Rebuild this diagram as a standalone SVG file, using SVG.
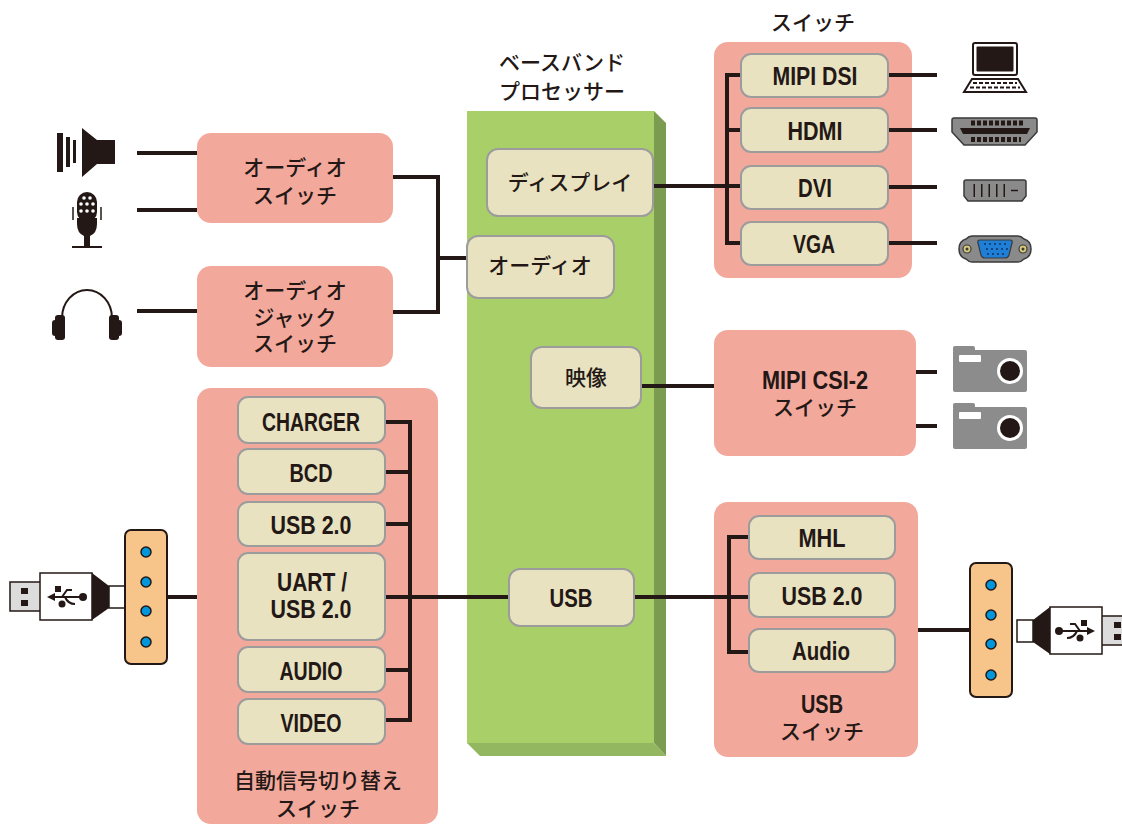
<svg xmlns="http://www.w3.org/2000/svg" width="1122" height="827" viewBox="0 0 1122 827">
  <defs>
    <style>
      .sw { fill: #f3a89c; }
      .blk { fill: #e8e2c0; stroke: #9c9c9c; stroke-width: 2; }
      .ln { fill: none; stroke: #231815; stroke-width: 4; stroke-linecap: butt; stroke-linejoin: miter; }
      .jp { font-family: "Noto Sans CJK JP", "Noto Sans", sans-serif; font-size: 21px; font-weight: 500; fill: #231815; text-anchor: middle; }
      .en { font-family: "Liberation Sans", Arial, sans-serif; font-size: 26px; font-weight: bold; fill: #231815; text-anchor: middle; }
      .dev { fill: #231815; }
      .gry { fill: #8a8a8a; stroke: #3a3a3a; stroke-width: 1.5; }
      .hub { fill: #f7c48a; stroke: #231815; stroke-width: 2; }
      .dot { fill: #0096dc; stroke: #231815; stroke-width: 1.5; }
      .plug { fill: #ffffff; stroke: #231815; stroke-width: 1.5; }
      .metal { fill: #dcdcdc; stroke: #231815; stroke-width: 1.5; }
      .cam { fill: #8c8c8c; }
    </style>
    <g id="usb-hub">
      <rect class="hub" x="0" y="0" width="42" height="134" rx="6"/>
      <circle class="dot" cx="21" cy="22" r="5"/>
      <circle class="dot" cx="21" cy="52" r="5"/>
      <circle class="dot" cx="21" cy="81" r="5"/>
      <circle class="dot" cx="21" cy="112" r="5"/>
    </g>
    <!-- USB plug, metal tip on the left -->
    <g id="usb-plug">
      <rect class="metal" x="0" y="9" width="31" height="29"/>
      <rect class="dev" x="11" y="15" width="7" height="6"/>
      <rect class="dev" x="11" y="27" width="7" height="6"/>
      <rect class="plug" x="30" y="0" width="52" height="47"/>
      <polygon class="dev" points="82,0 99,13 99,35 82,47"/>
      <rect class="plug" x="99" y="13" width="16" height="22"/>
      <!-- USB trident symbol -->
      <line x1="42" y1="24" x2="72" y2="24" stroke="#231815" stroke-width="2"/>
      <polygon class="dev" points="37,24 45,20 45,28"/>
      <circle class="dev" cx="73" cy="24" r="4"/>
      <polyline points="52,24 57,17 62,17" fill="none" stroke="#231815" stroke-width="2"/>
      <rect class="dev" x="45" y="13" width="6" height="6"/>
      <path d="M55,24 Q58,31 65,31" fill="none" stroke="#231815" stroke-width="2"/>
      <circle class="dev" cx="52" cy="31" r="3.5"/>
    </g>
    <g id="camera">
      <path class="cam" d="M0,5 h22 v-3 a2,2 0 0 0 -2,-2 h-18 a2,2 0 0 0 -2,2 z"/>
      <rect class="cam" x="0" y="4" width="74" height="42" rx="2"/>
      <rect x="6" y="9" width="22" height="7" rx="1" fill="#ffffff"/>
      <circle cx="57" cy="25" r="13" fill="#ffffff"/>
      <circle cx="57" cy="25" r="10" fill="#231815"/>
    </g>
  </defs>

  <!-- Baseband processor block -->
  <g id="baseband">
    <polygon points="654,111 666,123 666,756 654,743" fill="#7b9c50"/>
    <polygon points="467,743 654,743 666,756 480,756" fill="#93b661"/>
    <rect x="467" y="111" width="187" height="632" fill="#a9d068"/>
    <text class="jp" x="562" y="70">ベースバンド</text>
    <text class="jp" x="562" y="99">プロセッサー</text>
  </g>

  <!-- Switch housings -->
  <g id="audio-switch">
    <rect class="sw" x="197" y="133" width="196" height="90" rx="14"/>
    <text class="jp" x="295" y="175">オーディオ</text>
    <text class="jp" x="295" y="203">スイッチ</text>
  </g>
  <g id="audio-jack-switch">
    <rect class="sw" x="197" y="266" width="196" height="101" rx="14"/>
    <text class="jp" x="295" y="298">オーディオ</text>
    <text class="jp" x="295" y="325">ジャック</text>
    <text class="jp" x="295" y="351">スイッチ</text>
  </g>
  <g id="display-switch">
    <rect class="sw" x="714" y="42" width="198" height="236" rx="14"/>
    <text class="jp" x="813" y="30">スイッチ</text>
  </g>
  <g id="csi-switch">
    <rect class="sw" x="714" y="330" width="202" height="126" rx="14"/>
    <text class="en" x="815" y="389" textLength="106" lengthAdjust="spacingAndGlyphs">MIPI CSI-2</text>
    <text class="jp" x="815" y="415">スイッチ</text>
  </g>
  <g id="usb-switch">
    <rect class="sw" x="714" y="502" width="204" height="255" rx="14"/>
    <text class="en" x="822" y="713" textLength="42" lengthAdjust="spacingAndGlyphs">USB</text>
    <text class="jp" x="822" y="739">スイッチ</text>
  </g>
  <g id="auto-switch">
    <rect class="sw" x="197" y="388" width="241" height="436" rx="14"/>
    <text class="jp" x="318" y="788">自動信号切り替え</text>
    <text class="jp" x="318" y="816">スイッチ</text>
  </g>

  <!-- Connectors -->
  <g id="connectors">
    <line class="ln" x1="137" y1="153" x2="197" y2="153"/>
    <line class="ln" x1="137" y1="210" x2="197" y2="210"/>
    <line class="ln" x1="137" y1="311" x2="197" y2="311"/>
    <polyline class="ln" points="393,177 438,177 438,312 393,312"/>
    <line class="ln" x1="438" y1="258" x2="467" y2="258"/>
    <line class="ln" x1="653" y1="186" x2="741" y2="186"/>
    <polyline class="ln" points="741,75 727,75 727,243 741,243"/>
    <line class="ln" x1="727" y1="130" x2="741" y2="130"/>
    <line class="ln" x1="888" y1="75" x2="937" y2="75"/>
    <line class="ln" x1="888" y1="130" x2="937" y2="130"/>
    <line class="ln" x1="888" y1="187" x2="937" y2="187"/>
    <line class="ln" x1="888" y1="243" x2="937" y2="243"/>
    <line class="ln" x1="641" y1="386" x2="714" y2="386"/>
    <line class="ln" x1="916" y1="372" x2="937" y2="372"/>
    <line class="ln" x1="916" y1="426" x2="937" y2="426"/>
    <line class="ln" x1="634" y1="597" x2="749" y2="597"/>
    <polyline class="ln" points="749,537 729,537 729,652 749,652"/>
    <line class="ln" x1="918" y1="630" x2="970" y2="630"/>
    <line class="ln" x1="167" y1="597" x2="197" y2="597"/>
    <line class="ln" x1="385" y1="597" x2="509" y2="597"/>
    <polyline class="ln" points="385,422 410,422 410,720 385,720"/>
    <line class="ln" x1="385" y1="472" x2="410" y2="472"/>
    <line class="ln" x1="385" y1="524" x2="410" y2="524"/>
    <line class="ln" x1="385" y1="670" x2="410" y2="670"/>
  </g>

  <!-- Processor function blocks -->
  <g id="display"><rect class="blk" x="487" y="149" width="166" height="67" rx="11"/><text class="jp" x="570" y="190">ディスプレイ</text></g>
  <g id="audio"><rect class="blk" x="467" y="236" width="147" height="62" rx="11"/><text class="jp" x="540" y="273">オーディオ</text></g>
  <g id="video"><rect class="blk" x="531" y="347" width="110" height="61" rx="11"/><text class="jp" x="586" y="385">映像</text></g>
  <g id="usb"><rect class="blk" x="509" y="569" width="125" height="57" rx="11"/><text class="en" x="571" y="607" textLength="43" lengthAdjust="spacingAndGlyphs">USB</text></g>

  <!-- Display switch ports -->
  <g id="mipi-dsi"><rect class="blk" x="741" y="54" width="147" height="43" rx="10"/><text class="en" x="815" y="85" textLength="85" lengthAdjust="spacingAndGlyphs">MIPI DSI</text></g>
  <g id="hdmi"><rect class="blk" x="741" y="108" width="147" height="44" rx="10"/><text class="en" x="815" y="140" textLength="55" lengthAdjust="spacingAndGlyphs">HDMI</text></g>
  <g id="dvi"><rect class="blk" x="741" y="166" width="147" height="43" rx="10"/><text class="en" x="815" y="197" textLength="34" lengthAdjust="spacingAndGlyphs">DVI</text></g>
  <g id="vga"><rect class="blk" x="741" y="222" width="147" height="43" rx="10"/><text class="en" x="814" y="253" textLength="42" lengthAdjust="spacingAndGlyphs">VGA</text></g>

  <!-- USB switch ports -->
  <g id="mhl"><rect class="blk" x="749" y="516" width="146" height="43" rx="10"/><text class="en" x="822" y="547" textLength="47" lengthAdjust="spacingAndGlyphs">MHL</text></g>
  <g id="usb-switch-usb20"><rect class="blk" x="749" y="573" width="146" height="44" rx="10"/><text class="en" x="822" y="605" textLength="81" lengthAdjust="spacingAndGlyphs">USB 2.0</text></g>
  <g id="usb-switch-audio"><rect class="blk" x="749" y="629" width="146" height="43" rx="10"/><text class="en" x="821" y="660" textLength="58" lengthAdjust="spacingAndGlyphs">Audio</text></g>

  <!-- Auto switch ports -->
  <g id="charger"><rect class="blk" x="238" y="397" width="147" height="46" rx="10"/><text class="en" x="311" y="431" textLength="98" lengthAdjust="spacingAndGlyphs">CHARGER</text></g>
  <g id="bcd"><rect class="blk" x="238" y="449" width="147" height="45" rx="10"/><text class="en" x="311" y="482" textLength="43" lengthAdjust="spacingAndGlyphs">BCD</text></g>
  <g id="auto-usb20"><rect class="blk" x="238" y="502" width="147" height="44" rx="10"/><text class="en" x="311" y="534" textLength="81" lengthAdjust="spacingAndGlyphs">USB 2.0</text></g>
  <g id="uart"><rect class="blk" x="238" y="553" width="147" height="87" rx="10"/><text class="en" x="312" y="591" textLength="70" lengthAdjust="spacingAndGlyphs">UART /</text><text class="en" x="311" y="618" textLength="81" lengthAdjust="spacingAndGlyphs">USB 2.0</text></g>
  <g id="auto-audio"><rect class="blk" x="238" y="647" width="147" height="45" rx="10"/><text class="en" x="311" y="680" textLength="63" lengthAdjust="spacingAndGlyphs">AUDIO</text></g>
  <g id="auto-video"><rect class="blk" x="238" y="699" width="147" height="45" rx="10"/><text class="en" x="311" y="732" textLength="61" lengthAdjust="spacingAndGlyphs">VIDEO</text></g>

  <!-- Speaker -->
  <g id="speaker">
    <rect class="dev" x="57" y="133" width="6" height="39"/>
    <rect class="dev" x="66" y="137" width="4" height="30"/>
    <rect class="dev" x="73" y="140" width="3" height="23"/>
    <polygon class="dev" points="82,128 97,140 115,140 115,164 97,164 82,177"/>
  </g>

  <!-- Microphone -->
  <g id="microphone">
    <rect class="dev" x="77" y="192" width="20" height="30" rx="10"/>
    <path class="dev" d="M77,218 h20 v6 q0,9 -7,12 v10 h-6 v-10 q-7,-3 -7,-12 z"/>
    <line x1="73" y1="207" x2="73" y2="220" stroke="#231815" stroke-width="1.5"/>
    <line x1="101" y1="207" x2="101" y2="220" stroke="#231815" stroke-width="1.5"/>
    <rect class="dev" x="72" y="246" width="30" height="2"/>
    <g fill="#ffffff">
      <circle cx="84" cy="198" r="1.8"/><circle cx="90" cy="198" r="1.8"/>
      <circle cx="81" cy="204" r="1.8"/><circle cx="87" cy="204" r="1.8"/><circle cx="93" cy="204" r="1.8"/>
      <circle cx="81" cy="211" r="1.8"/><circle cx="87" cy="211" r="1.8"/><circle cx="93" cy="211" r="1.8"/>
    </g>
  </g>

  <!-- Headphones -->
  <g id="headphones">
    <path d="M62,318 A25,28 0 0 1 112,318" fill="none" stroke="#231815" stroke-width="2"/>
    <rect class="dev" x="55" y="315" width="10" height="25" rx="3"/>
    <rect class="dev" x="52" y="320" width="6" height="16" rx="3"/>
    <rect class="dev" x="109" y="315" width="10" height="25" rx="3"/>
    <rect class="dev" x="116" y="320" width="6" height="16" rx="3"/>
  </g>

  <!-- Computer -->
  <g id="computer">
    <rect x="973" y="43" width="44" height="32" rx="2" fill="#ffffff" stroke="#231815" stroke-width="2"/>
    <rect class="dev" x="976.5" y="46.5" width="37" height="25" rx="1"/>
    <polygon points="972,79 1018,79 1026,92 964,92" fill="#ffffff" stroke="#231815" stroke-width="2"/>
    <line x1="973" y1="83" x2="1017" y2="83" stroke="#231815" stroke-width="2" stroke-dasharray="4 2"/>
    <line x1="970" y1="87.5" x2="1020" y2="87.5" stroke="#231815" stroke-width="2" stroke-dasharray="4 2"/>
  </g>

  <!-- HDMI connector -->
  <g id="hdmi-port">
    <path class="gry" d="M954,118 h81 a2,2 0 0 1 2,2 v12 l-12,13 h-61 l-12,-13 v-12 a2,2 0 0 1 2,-2 z"/>
    <line x1="971" y1="123" x2="1025" y2="123" stroke="#231815" stroke-width="5" stroke-dasharray="4 2"/>
    <polygon class="dev" points="960,128 1030,128 1027,134 963,134"/>
    <line x1="971" y1="139.5" x2="1021" y2="139.5" stroke="#231815" stroke-width="5" stroke-dasharray="4 2"/>
  </g>

  <!-- DVI connector -->
  <g id="dvi-port">
    <path class="gry" d="M966,180 h58 a2,2 0 0 1 2,2 v14 l-4,5 h-54 l-4,-5 v-14 a2,2 0 0 1 2,-2 z"/>
    <rect class="dev" x="969" y="184" width="37" height="13"/>
    <line x1="969" y1="190.5" x2="1006" y2="190.5" stroke="#8a8a8a" stroke-width="13" stroke-dasharray="6 1.5" stroke-dashoffset="-6"/>
    <line x1="1011" y1="190.5" x2="1018" y2="190.5" stroke="#231815" stroke-width="1.5"/>
  </g>

  <!-- VGA connector -->
  <g id="vga-port">
    <path class="gry" d="M972,236 h46 q3,0 6,3 q7,2 7,10 q0,8 -7,10 q-3,3 -6,3 h-46 q-3,0 -6,-3 q-7,-2 -7,-10 q0,-8 7,-10 q3,-3 6,-3 z"/>
    <circle cx="967" cy="249" r="4" fill="#d8c87a" stroke="#3a3a3a" stroke-width="1.2"/>
    <circle cx="967" cy="249" r="1.5" fill="#3a3a3a"/>
    <circle cx="1023" cy="249" r="4" fill="#d8c87a" stroke="#3a3a3a" stroke-width="1.2"/>
    <circle cx="1023" cy="249" r="1.5" fill="#3a3a3a"/>
    <path d="M980,240 h30 q3,0 2,3 l-3,12 q-1,3 -4,3 h-20 q-3,0 -4,-3 l-3,-12 q-1,-3 2,-3 z" fill="#1f7fd6" stroke="#3a3a3a" stroke-width="1.2"/>
    <g fill="#0d2a55">
      <circle cx="985" cy="244" r="0.9"/><circle cx="990" cy="244" r="0.9"/><circle cx="995" cy="244" r="0.9"/><circle cx="1000" cy="244" r="0.9"/><circle cx="1005" cy="244" r="0.9"/>
      <circle cx="987" cy="249" r="0.9"/><circle cx="992" cy="249" r="0.9"/><circle cx="997" cy="249" r="0.9"/><circle cx="1002" cy="249" r="0.9"/><circle cx="1007" cy="249" r="0.9"/>
      <circle cx="988" cy="254" r="0.9"/><circle cx="993" cy="254" r="0.9"/><circle cx="998" cy="254" r="0.9"/><circle cx="1003" cy="254" r="0.9"/>
    </g>
  </g>

  <!-- Cameras -->
  <g id="camera-1"><use href="#camera" x="953" y="346"/></g>
  <g id="camera-2"><use href="#camera" x="953" y="403"/></g>

  <!-- USB hubs and plugs -->
  <g id="left-usb">
    <use href="#usb-plug" x="10" y="573"/>
    <use href="#usb-hub" x="125" y="530"/>
  </g>
  <g id="right-usb">
    <use href="#usb-plug" transform="translate(1132,607) scale(-1,1)"/>
    <use href="#usb-hub" x="970" y="563"/>
  </g>
</svg>
